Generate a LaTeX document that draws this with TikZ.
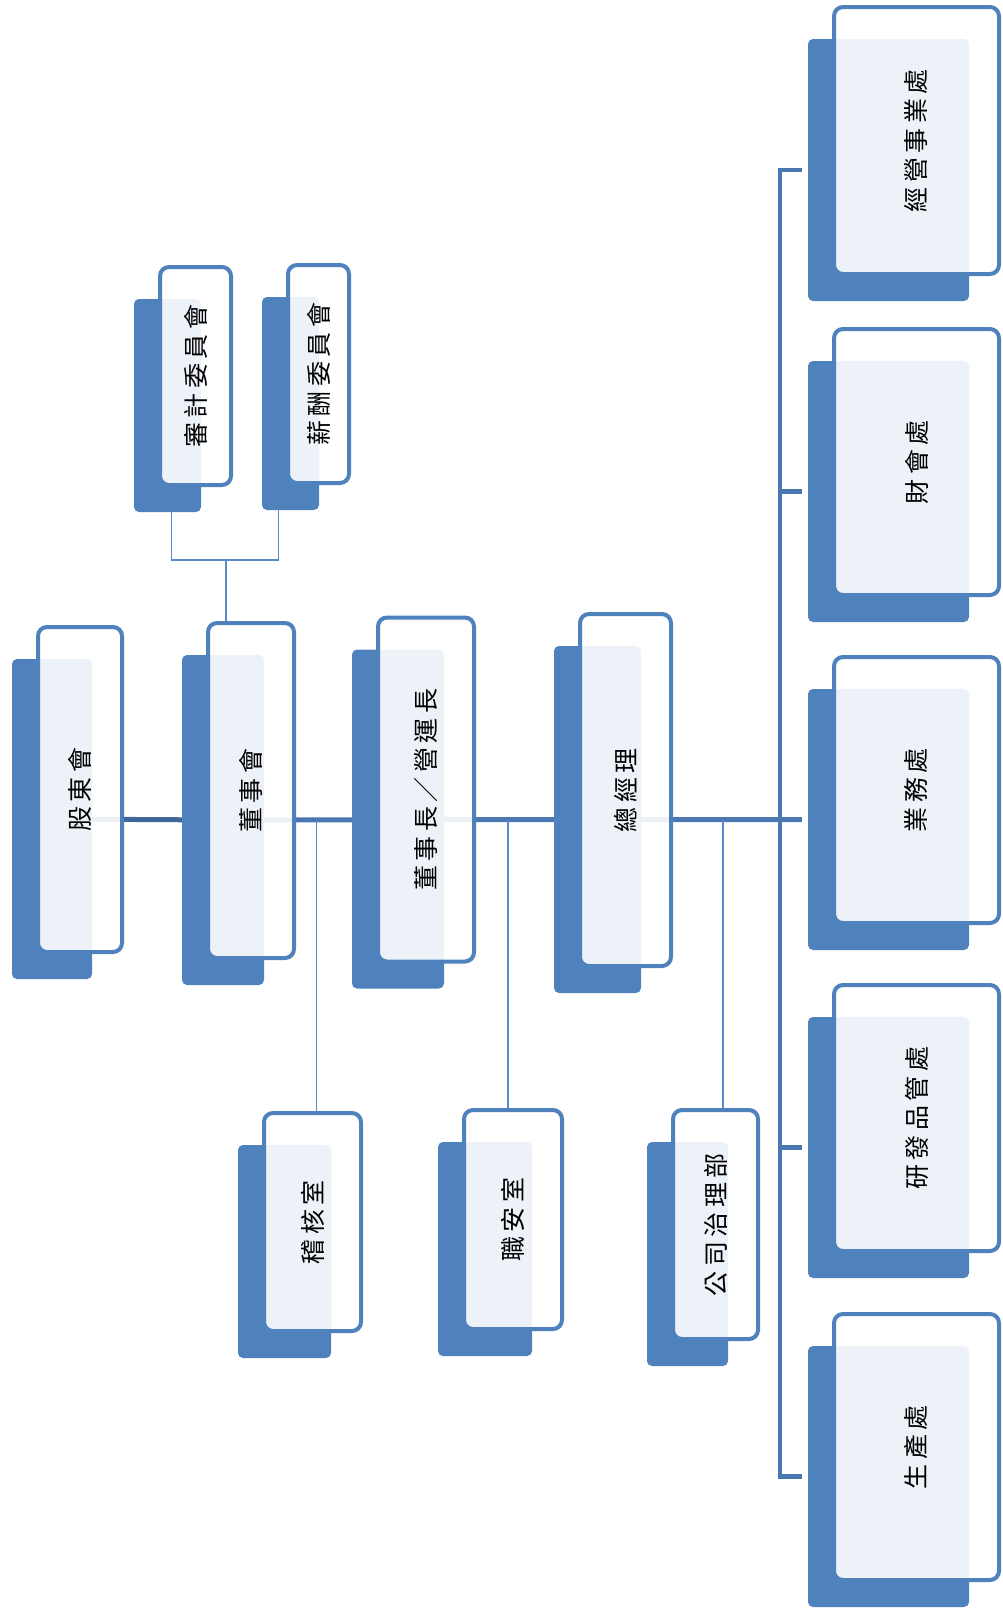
\documentclass[tikz,border=0pt]{standalone}
\usepackage{fontspec}
\usetikzlibrary{calc}
\newfontfamily\cjk[LetterSpace=18]{Noto Sans CJK TC}

\definecolor{boxblue}{HTML}{4F81BD}
\definecolor{spinedark}{HTML}{41679A}
\definecolor{busblue}{HTML}{4A77B1}
\definecolor{linkblue}{HTML}{5A89CC}

\pgfdeclarelayer{background}
\pgfsetlayers{background,main}

% \orgunit{name}{cx}{cy}{w}{h}{text} -- cx,cy,w,h of the framed front box
\newcommand{\orgunit}[6]{%
  \node[backbox, minimum width=#4-8, minimum height=#5-9] (#1) at (#2-28,#3+29.5) {};
  \node[frontbox, minimum width=#4-4, minimum height=#5-4] (#1F) at (#2,#3) {};
  \node[unittext] (#1T) at (#1F.center) {#6};
}

\begin{document}
\begin{tikzpicture}[x=1pt,y=-1pt,
  backbox/.style={fill=boxblue, rounded corners=5pt, inner sep=0pt},
  frontbox/.style={draw=boxblue, line width=4pt, fill=white, fill opacity=0.9, rounded corners=9pt, inner sep=0pt},
  unittext/.style={rotate=90, inner sep=0pt, font=\cjk\fontsize{25}{25}\selectfont},
  spine/.style={line width=5pt},
  bus/.style={draw=busblue, line width=4.5pt},
  link/.style={draw=linkblue, line width=1.6pt}]

\useasboundingbox (0,0) rectangle (1002,1615);

% main chain
\orgunit{gd}{80}{789.5}{88}{329}{股東會}
\orgunit{ds}{251}{790.5}{90}{339}{董事會}
\orgunit{dsz}{426}{789.5}{100}{348}{董事長／營運長}
\orgunit{zjl}{625.5}{790}{95}{356}{總經理}

% committees
\orgunit{sj}{195.5}{376}{75}{222}{審計委員會}
\orgunit{xc}{318.5}{374}{65}{222}{薪酬委員會}

% staff units
\orgunit{jh}{312.5}{1222}{101}{222}{稽核室}
\orgunit{za}{513}{1219.5}{102}{223}{職安室}
\orgunit{gs}{715.5}{1224.5}{89}{233}{公司治理部}

% divisions
\orgunit{jy}{916.5}{140.5}{169}{271}{經營事業處}
\orgunit{ch}{916.5}{462}{169}{270}{財會處}
\orgunit{yw}{916.5}{790}{169}{270}{業務處}
\orgunit{yf}{916.5}{1118}{169}{270}{研發品管處}
\orgunit{sc}{916.5}{1447}{169}{270}{生產處}

\coordinate (cmt) at (226,560);
\coordinate (bus) at (780,820);

\begin{pgfonlayer}{background}
\draw[spine, draw=spinedark] (gd.center) -- (ds.center);
\draw[spine, draw=busblue] (ds.center) -- (zjl.center) -- ([xshift=-6]yw.west);

\draw[bus] ([xshift=-6]jy.west) -| (bus) |- ([xshift=-6]sc.west);
\foreach \n in {ch,yf}
  \draw[bus] (\n.center -| bus) -- ([xshift=-6]\n.west);

\draw[link] ([xshift=4]sj.south) |- (cmt) -| ([xshift=-12]xc.south);
\draw[link] (cmt) -- (cmt |- dsF.north);

\draw[link] ([xshift=4]jhF.north) -- ([xshift=4]jhF.north |- ds.center);
\draw[link] ([xshift=-5]zaF.north) -- ([xshift=-5]zaF.north |- ds.center);
\draw[link] ([xshift=7.5]gsF.north) -- ([xshift=7.5]gsF.north |- ds.center);
\end{pgfonlayer}

\end{tikzpicture}
\end{document}
